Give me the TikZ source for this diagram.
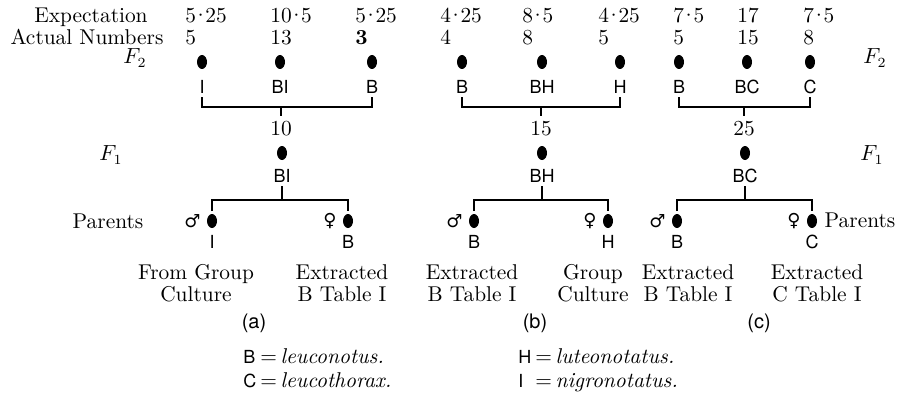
\documentclass[tikz,border=0pt]{standalone}
\usepackage{fontspec}
\usepackage{tikz}
\usetikzlibrary{positioning,shapes.geometric}
\newfontfamily\sexfont{DejaVu Sans}
\newfontfamily\genefont{TeX Gyre Heros}
\newcommand{\md}{\kern-.17em·\kern-.17em}
\newcommand{\keyletter}[1]{\makebox[8.5pt][l]{\fontsize{9}{10}\genefont #1}}

\begin{document}
\begin{tikzpicture}[
  x=0.5pt,y=-0.5pt,
  font=\fontsize{10.7}{11}\selectfont,
  dot/.style={ellipse,fill=black,inner sep=0pt,minimum width=5pt,minimum height=7pt,outer sep=1.5pt},
  gene/.style={anchor=base,font=\fontsize{9}{10}\genefont,text height=6.5pt,text depth=0pt,inner sep=0.5pt,outer sep=1.5pt},
  num/.style={anchor=base west,inner sep=0pt},
  count/.style={anchor=base,inner sep=0.5pt,outer sep=2pt,text height=6.9pt,text depth=0pt},
  gen/.style={inner sep=0pt},
  sex/.style={font=\fontsize{9}{10}\sexfont,inner sep=0pt},
  bracket/.style={line width=0.6pt},
  source/.style={anchor=north,align=center,inner sep=0pt},
  tag/.style={anchor=base,font=\fontsize{10}{12}\genefont,inner sep=0pt},
  key/.style={anchor=base west,inner sep=0pt}
]
  \useasboundingbox (0,0) rectangle (913,401);

  % row labels
  \node[anchor=base,inner sep=0pt] (expect) at (91,23) {Expectation};
  \node[anchor=base,inner sep=0pt] (actual) at (87,45) {Actual Numbers};
  \node[gen] (f2l) at (135,58) {$F_2$};
  \node[gen] (f2r) at (875,58) {$F_2$};
  \node[gen] (f1l) at (111,155) {$F_1$};
  \node[gen] (f1r) at (872,155) {$F_1$};
  \node[anchor=base,inner sep=0pt] (parl) at (108,228) {Parents};
  \node[anchor=base,inner sep=0pt] (parr) at (860,227) {Parents};

  % F2 counts
  \foreach \x/\e/\n [count=\i] in {185/5\md 25/5,270/10\md 5/13,355/5\md 25/\textbf{3},
      440/4\md 25/4,522/8\md 5/8,598/4\md 25/5,673/7\md 5/5,737/17/15,803/7\md 5/8} {
    \node[num] (exp\i) at (\x,23) {\e};
    \node[num] (act\i) at (\x,45) {\n};
  }

  % F2 individuals
  \foreach \x/\g [count=\i] in {202/I,280/BI,372/B,462/B,542/BH,620/H,679/B,747/BC,810/C} {
    \node[dot] (d\i) at (\x,62) {};
    \node[gene] (g\i) at (\x,93) {\g};
  }

  % (a)
  \coordinate (ja) at (281,107);
  \draw[bracket] (g1.south) |- (ja) -| (g3.south);
  \node[count] (na) at (281,135) {10};
  \draw[bracket] (ja) -- (na.north);
  \node[dot] (fa) at (282,153) {};
  \node[gene] (ha) at (282,182) {BI};
  \coordinate (ka) at (282,200);
  \node[dot] (ma) at (212,221) {};
  \node[dot] (wa) at (348,221) {};
  \draw[bracket] (ha.south) -- (ka);
  \draw[bracket] (ma.north) |- (ka) -| (wa.north);
  \node[sex,left=1.5pt of ma] (sma) {♂};
  \node[sex,left=1.5pt of wa] (swa) {♀};
  \node[gene] (pma) at (212,248) {I};
  \node[gene] (pwa) at (348,248) {B};

  % (b)
  \coordinate (jb) at (541,107);
  \draw[bracket] (g4.south) |- (jb) -| (g6.south);
  \node[count] (nb) at (541,135) {15};
  \draw[bracket] (jb) -- (nb.north);
  \node[dot] (fb) at (542,153) {};
  \node[gene] (hb) at (542,182) {BH};
  \coordinate (kb) at (542,200);
  \node[dot] (mb) at (474,221) {};
  \node[dot] (wb) at (608,221) {};
  \draw[bracket] (hb.south) -- (kb);
  \draw[bracket] (mb.north) |- (kb) -| (wb.north);
  \node[sex,left=1.5pt of mb] (smb) {♂};
  \node[sex,left=1.5pt of wb] (swb) {♀};
  \node[gene] (pmb) at (474,248) {B};
  \node[gene] (pwb) at (608,248) {H};

  % (c)
  \coordinate (jc) at (744,107);
  \draw[bracket] (g7.south) |- (jc) -| (g9.south);
  \node[count] (nc) at (744,135) {25};
  \draw[bracket] (jc) -- (nc.north);
  \node[dot] (fc) at (745,153) {};
  \node[gene] (hc) at (745,182) {BC};
  \coordinate (kc) at (745,200);
  \node[dot] (mc) at (677,221) {};
  \node[dot] (wc) at (812,221) {};
  \draw[bracket] (hc.south) -- (kc);
  \draw[bracket] (mc.north) |- (kc) -| (wc.north);
  \node[sex,left=1.5pt of mc] (smc) {♂};
  \node[sex,left=1.5pt of wc] (swc) {♀};
  \node[gene] (pmc) at (677,248) {B};
  \node[gene] (pwc) at (812,248) {C};

  % origin of parents
  \node[source] (sa1) at (196,264) {From Group\\Culture};
  \node[source] (sa2) at (342,264) {Extracted\\B Table I};
  \node[source] (sb1) at (472,264) {Extracted\\B Table I};
  \node[source] (sb2) at (593,264) {Group\\Culture};
  \node[source] (sc1) at (688,264) {Extracted\\B Table I};
  \node[source] (sc2) at (817,264) {Extracted\\C Table I};

  \node[tag] (taga) at (254,328) {(a)};
  \node[tag] (tagb) at (535,328) {(b)};
  \node[tag] (tagc) at (759,328) {(c)};

  % key
  \node[key] (keyb) at (243,363) {\keyletter{B}=\,\textit{leuconotus.}};
  \node[key] (keyc) at (243,387) {\keyletter{C}=\,\textit{leucothorax.}};
  \node[key] (keyh) at (518,363) {\keyletter{H}=\,\textit{luteonotatus.}};
  \node[key] (keyi) at (518,387) {\keyletter{I}=\,\textit{nigronotatus.}};
\end{tikzpicture}
\end{document}
